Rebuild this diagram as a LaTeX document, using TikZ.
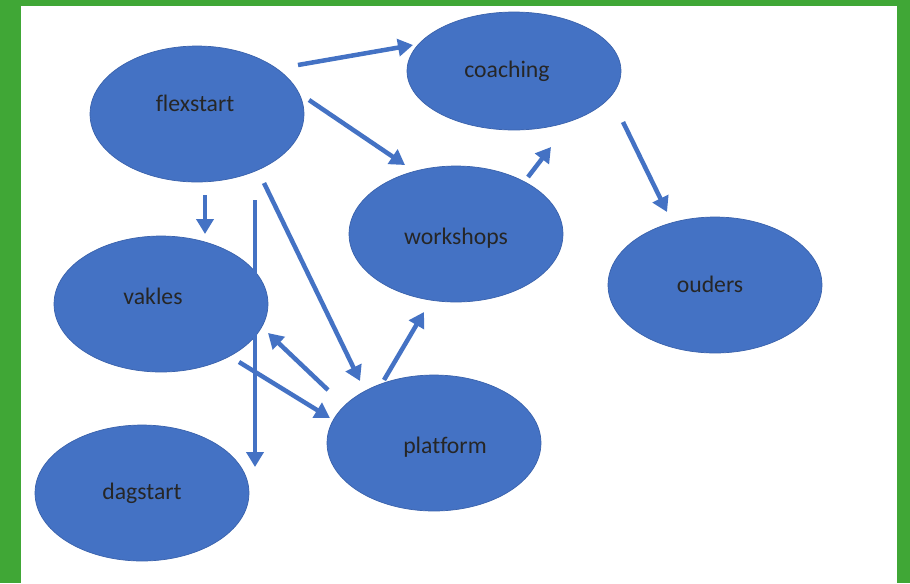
\documentclass[tikz,border=0pt]{standalone}
\usepackage{fontspec}
\setmainfont[Ligatures=NoCommon]{Carlito}
\usepackage{tikz}
\usetikzlibrary{shapes.geometric,arrows.meta}
\definecolor{officeblue}{HTML}{4472C4}
\definecolor{blueedge}{HTML}{3A62AC}
\definecolor{framegreen}{HTML}{40A736}

\begin{document}
\begin{tikzpicture}[x=0.02cm, y=-0.02cm]
		\tikzset{bubble/.style={ellipse, minimum width=4.28cm, minimum height=2.72cm, fill=officeblue, draw=blueedge, line width=0.4pt}}
		\tikzset{txt/.style={font=\fontsize{13.5}{15}\selectfont, text=black!85}}
		\tikzset{arr/.style={-{Triangle[length=0.3cm, width=0.34cm]}, line width=0.09cm, draw=officeblue}}
		% frame
		\fill[framegreen] (0,0) rectangle (910,583);
		\fill[white] (21,6) rectangle (897,583);
		\useasboundingbox (0,0) rectangle (910,583);

		\node[bubble, label={[txt, shift={(-2,-11)}]center:flexstart}] (flexstart) at (197,114) {};
		\node[bubble, minimum height=2.36cm, label={[txt, shift={(-7,0)}]center:coaching}] (coaching) at (514,71) {};
		\node[bubble, label={[txt, shift={(0,4)}]center:workshops}] (workshops) at (456,234) {};
		\node[bubble, label={[txt, shift={(-8,-8)}]center:vakles}] (vakles) at (161,304) {};
		\node[bubble, label={[txt, shift={(-5,-1)}]center:ouders}] (ouders) at (715,285) {};
		\node[bubble, label={[txt, shift={(11,4)}]center:platform}] (platform) at (434,443) {};
		\node[bubble, label={[txt]center:dagstart}] (dagstart) at (142,493) {};

		%pijlen vanuit flexstart
		\draw[arr] ([shift={(101,-49)}]flexstart.center) -- ([shift={(-101,-26)}]coaching.center);
		\draw[arr] ([shift={(112,-14)}]flexstart.center) -- ([shift={(-51,-69)}]workshops.center);
		\draw[arr] ([shift={(8,81)}]flexstart.center) -- ([shift={(44,-70)}]vakles.center);
		\draw[arr] ([shift={(58,86)}]flexstart.center) -- ([shift={(113,-26)}]dagstart.center);
		\draw[arr] ([shift={(67,69)}]flexstart.center) -- ([shift={(-74,-62)}]platform.center);

		\draw[arr] ([shift={(109,51)}]coaching.center) -- ([shift={(-48,-73)}]ouders.center);
		\draw[arr] ([shift={(72,-57)}]workshops.center) -- ([shift={(37,76)}]coaching.center);
		\draw[arr] ([shift={(-50,-63)}]platform.center) -- ([shift={(-32,78)}]workshops.center);
		\draw[arr] ([shift={(-106,-53)}]platform.center) -- ([shift={(107,29)}]vakles.center);
		\draw[arr] ([shift={(78,58)}]vakles.center) -- ([shift={(-104,-25)}]platform.center);
	\end{tikzpicture}
\end{document}
